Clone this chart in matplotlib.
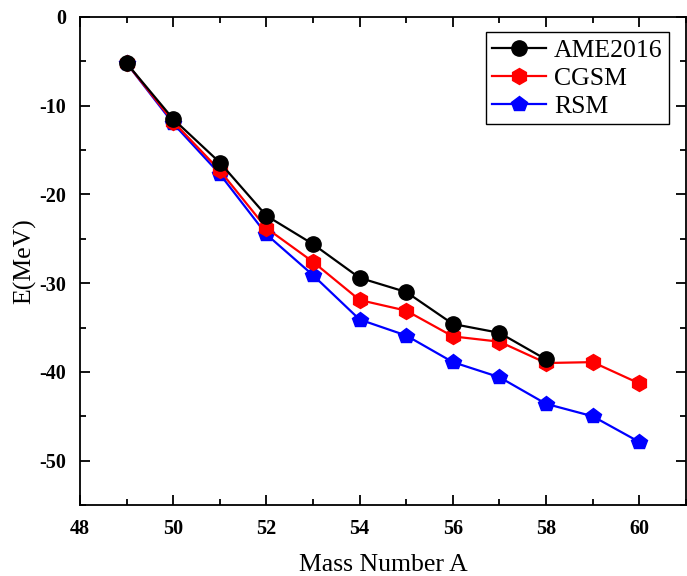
import matplotlib
matplotlib.use("Agg")
import matplotlib.pyplot as plt
from matplotlib.ticker import MultipleLocator

plt.rcParams['font.family'] = ['Liberation Serif', 'DejaVu Serif']
plt.rcParams['axes.unicode_minus'] = False

mass_ame = [49, 50, 51, 52, 53, 54, 55, 56, 57, 58]
e_ame = [-5.2, -11.5, -16.4, -22.4, -25.6, -29.4, -31.0, -34.6, -35.6, -38.6]

mass_calc = [49, 50, 51, 52, 53, 54, 55, 56, 57, 58, 59, 60]
e_cgsm = [-5.2, -11.8, -17.3, -23.8, -27.6, -31.9, -33.1, -36.0, -36.6, -39.0, -38.9, -41.3]
e_rsm = [-5.2, -12.0, -17.7, -24.5, -29.1, -34.1, -35.9, -38.9, -40.6, -43.6, -45.0, -47.9]

fig = plt.figure(figsize=(6.87, 5.76), dpi=100)
ax = fig.add_axes([0.1164, 0.1233, 0.882, 0.8472])

ax.plot(mass_ame, e_ame, color='black', marker='o', markersize=11, lw=1.6,
        label='AME2016', zorder=3)
ax.plot(mass_calc, e_cgsm, color='red', marker='h', markersize=11.5, lw=1.6,
        label='CGSM', zorder=2)
ax.plot(mass_calc, e_rsm, color='blue', marker='p', markersize=11.5, lw=1.6,
        label='RSM', zorder=1)

ax.set_xlim(48, 61)
ax.set_ylim(-55, 0)
ax.xaxis.set_major_locator(MultipleLocator(2))
ax.xaxis.set_minor_locator(MultipleLocator(1))
ax.yaxis.set_major_locator(MultipleLocator(10))
ax.yaxis.set_minor_locator(MultipleLocator(5))
ax.tick_params(which='both', direction='in', top=True, right=True, width=1.3)
ax.tick_params(which='major', length=7, labelsize=14.5, pad=10)
ax.tick_params(which='minor', length=4)
for lab in ax.get_xticklabels() + ax.get_yticklabels():
    lab.set_fontweight('bold')
for sp in ax.spines.values():
    sp.set_linewidth(1.3)

ax.set_xlabel('Mass Number A', fontsize=18.5, labelpad=11)
ax.set_ylabel('E(MeV)', fontsize=18.5, labelpad=2)

leg = ax.legend(loc='upper right', bbox_to_anchor=(0.972, 0.969), fontsize=18.5,
                fancybox=False, edgecolor='black', framealpha=1,
                handlelength=2.1, handletextpad=0.3, borderpad=0.25,
                labelspacing=0.2, borderaxespad=0)
leg.get_frame().set_linewidth(1.0)

fig.savefig('out.png', dpi=100)
